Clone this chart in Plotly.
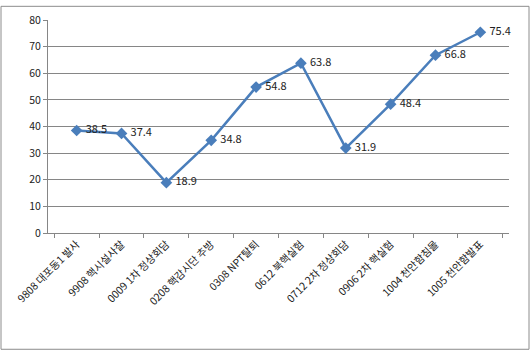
import plotly.graph_objects as go

categories = ["9808 대포동1 발사", "9908 핵시설사찰", "0009 1차 정상회담", "0208 핵감시단 추방",
              "0308 NPT탈퇴", "0612 북핵실험", "0712 2차 정상회담", "0906 2차 핵실험",
              "1004 천안함침몰", "1005 천안함발표"]
values = [38.5, 37.4, 18.9, 34.8, 54.8, 63.8, 31.9, 48.4, 66.8, 75.4]
labels = [f" {v:.1f}" for v in values]

FONT = "Noto Sans CJK KR"
L, R, T, B = 48, 21, 15, 120
W, H = 530, 353
pw, ph = W - L - R, H - T - B

fig = go.Figure(go.Scatter(
    x=categories, y=values, mode="lines+markers+text",
    text=labels, textposition="middle right",
    textfont=dict(family=FONT, size=11, color="#222222"),
    line=dict(color="#4A7EBB", width=2.5),
    marker=dict(symbol="diamond", size=9, color="#4A7EBB"),
    cliponaxis=False,
))

fig.update_layout(
    width=W, height=H,
    margin=dict(l=L, r=R, t=T, b=B),
    paper_bgcolor="white", plot_bgcolor="white",
    showlegend=False,
    font=dict(family=FONT, size=10, color="#222222"),
    xaxis=dict(
        type="category", tickangle=-45, ticks="outside", tickson="boundaries",
        ticklen=4, tickcolor="#868686", showline=True, linecolor="#868686",
        showgrid=False, tickfont=dict(family=FONT, size=10.5, color="#222222"),
    ),
    yaxis=dict(
        range=[0, 80], dtick=10, showgrid=True, gridcolor="#868686", gridwidth=1,
        showline=True, linecolor="#868686", ticks="outside", ticklen=4,
        tickcolor="#868686", zeroline=False,
        tickfont=dict(family=FONT, size=10.5, color="#222222"),
    ),
    shapes=[dict(
        type="rect", xref="paper", yref="paper",
        x0=-(L - 1) / pw, x1=1 + (R - 1) / pw,
        y0=-(B - 1) / ph, y1=1 + (T - 1) / ph,
        line=dict(color="#8C8C8C", width=1),
    )],
)

fig.write_html("out.html")
